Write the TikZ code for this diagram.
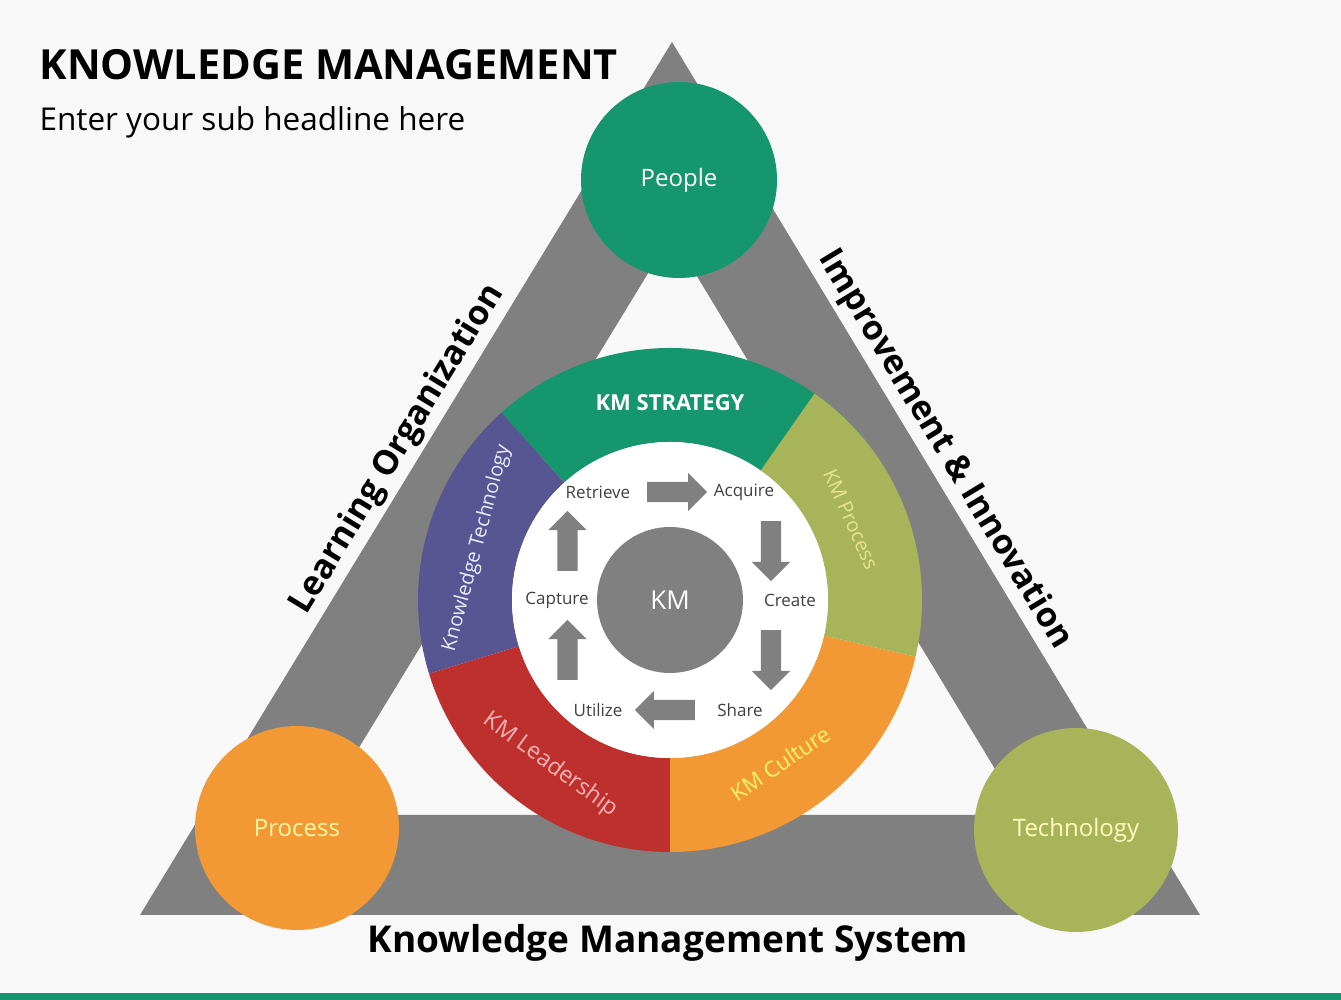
\documentclass[tikz,border=0pt]{standalone}
\usepackage{fontspec}
\setmainfont{Open Sans}
\usetikzlibrary{shapes.arrows,calc}

\definecolor{kmgreen}{RGB}{22,150,108}
\definecolor{kmpurple}{RGB}{88,86,146}
\definecolor{kmred}{RGB}{190,48,46}
\definecolor{kmorange}{RGB}{242,152,52}
\definecolor{kmolive}{RGB}{168,180,90}
\definecolor{kmgray}{RGB}{128,128,128}
\definecolor{paper}{RGB}{248,248,248}

\newcommand{\fs}[1]{\fontsize{#1}{#1}\selectfont}

\tikzset{
  flowarrow/.style={single arrow, fill=kmgray, inner sep=10pt, minimum height=60pt,
    single arrow head extend=9pt},
  steplabel/.style={text=black!75, font=\fs{17}},
  ringlabel/.style={font=\fs{20}},
  cornerdisc/.style={circle, minimum size=200pt, inner sep=0pt, font=\fs{24}},
  sidelabel/.style={font=\bfseries\fs{34}, inner sep=5pt}
}

\begin{document}
\begin{tikzpicture}[x=1pt,y=1pt]
  \fill[paper] (0,0) rectangle (1341,1000);
  \useasboundingbox (0,0) rectangle (1341,1000);
  \fill[kmgreen] (0,0) rectangle (1341,7);

  \node[anchor=base west, font=\bfseries\fs{41.5}] (title) at (36,920) {KNOWLEDGE MANAGEMENT};
  \node[anchor=base west, font=\fs{31.5}] (subtitle) at (36,869) {Enter your sub headline here};

  % triangle frame
  \coordinate (apex) at (672,958);
  \coordinate (bl) at (140,85);
  \coordinate (br) at (1200,85);
  \fill[kmgray, even odd rule] (apex) -- (bl) -- (br) -- cycle
    (671.7,765.5) -- (317.9,185) -- (1022.8,185) -- cycle;

  \path (bl) -- (apex) node[pos=0.52, sloped, above, sidelabel] (learning) {Learning Organization};
  \path (apex) -- (br) node[pos=0.48, sloped, above, sidelabel] (improve) {Improvement \& Innovation};
  \node[font=\bfseries\fs{37}] (kms) at (668,57) {Knowledge Management System};

  % corner circles
  \node[cornerdisc, fill=kmgreen, minimum size=196pt, text=white] (people) at (679,820) {People};
  \node[cornerdisc, fill=kmorange, minimum size=204pt, text=yellow!35] (process) at (297,172) {Process};
  \node[cornerdisc, fill=kmolive, minimum size=204pt, text=yellow!25!white] (tech) at (1076,170) {Technology};

  % ring
  \coordinate (km) at (670,400);
  \begin{scope}[shift={(km)}]
    \fill[kmgreen] (40:252) arc[start angle=40, end angle=132, radius=252]
      -- (132:158) arc[start angle=132, end angle=40, radius=158] -- cycle;
    \fill[kmpurple] (132:252) arc[start angle=132, end angle=197, radius=252]
      -- (197:158) arc[start angle=197, end angle=132, radius=158] -- cycle;
    \fill[kmred] (197:252) arc[start angle=197, end angle=270, radius=252]
      -- (270:158) arc[start angle=270, end angle=197, radius=158] -- cycle;
    \fill[kmorange] (270:252) arc[start angle=270, end angle=347, radius=252]
      -- (347:158) arc[start angle=347, end angle=270, radius=158] -- cycle;
    \fill[kmolive] (-13:252) arc[start angle=-13, end angle=55, radius=252]
      -- (55:158) arc[start angle=55, end angle=-13, radius=158] -- cycle;
    \fill[white] (0,0) circle (158);

    \node[ringlabel, font=\bfseries\fs{22}, text=white] (strategy) at (90:197) {KM STRATEGY};
    \node[ringlabel, text=blue!8!white, rotate=75] (techlabel) at (165:200) {Knowledge Technology};
    \node[ringlabel, text=yellow!45!kmolive!60!white, rotate=-66] (proclabel) at (24:198) {KM Process};
    \node[ringlabel, font=\fs{23}, text=red!30!white, rotate=-36] (leadlabel) at (234:204) {KM Leadership};
    \node[ringlabel, font=\fs{22}, text=yellow!60!white, rotate=34] (culturelabel) at (304:197) {KM Culture};
  \end{scope}

  \node[circle, fill=kmgray, minimum size=146pt, text=white, font=\fs{26}] (core) at (km) {KM};

  % knowledge cycle
  \node[steplabel] (retrieve) at (598,508) {Retrieve};
  \node[steplabel] (acquire) at (744,508) {Acquire};
  \node[steplabel] (create) at (790,400) {Create};
  \node[steplabel] (share) at (740,290) {Share};
  \node[steplabel] (utilize) at (598,290) {Utilize};
  \node[steplabel] (capture) at (557,400) {Capture};

  \node[flowarrow] (a1) at ($(retrieve.east)!0.5!(acquire.west)$) {};
  \node[flowarrow, shape border rotate=270] (a2) at ($(acquire)!0.5!(create)+(4,0)$) {};
  \node[flowarrow, shape border rotate=270] (a3) at ($(create)!0.5!(share)+(6,0)$) {};
  \node[flowarrow, shape border rotate=180] (a4) at ($(share.west)!0.5!(utilize.east)$) {};
  \node[flowarrow, shape border rotate=90] (a5) at ($(utilize)!0.5!(capture)+(-10,0)$) {};
  \node[flowarrow, shape border rotate=90] (a6) at ($(capture)!0.5!(retrieve)+(-10,0)$) {};
\end{tikzpicture}
\end{document}
